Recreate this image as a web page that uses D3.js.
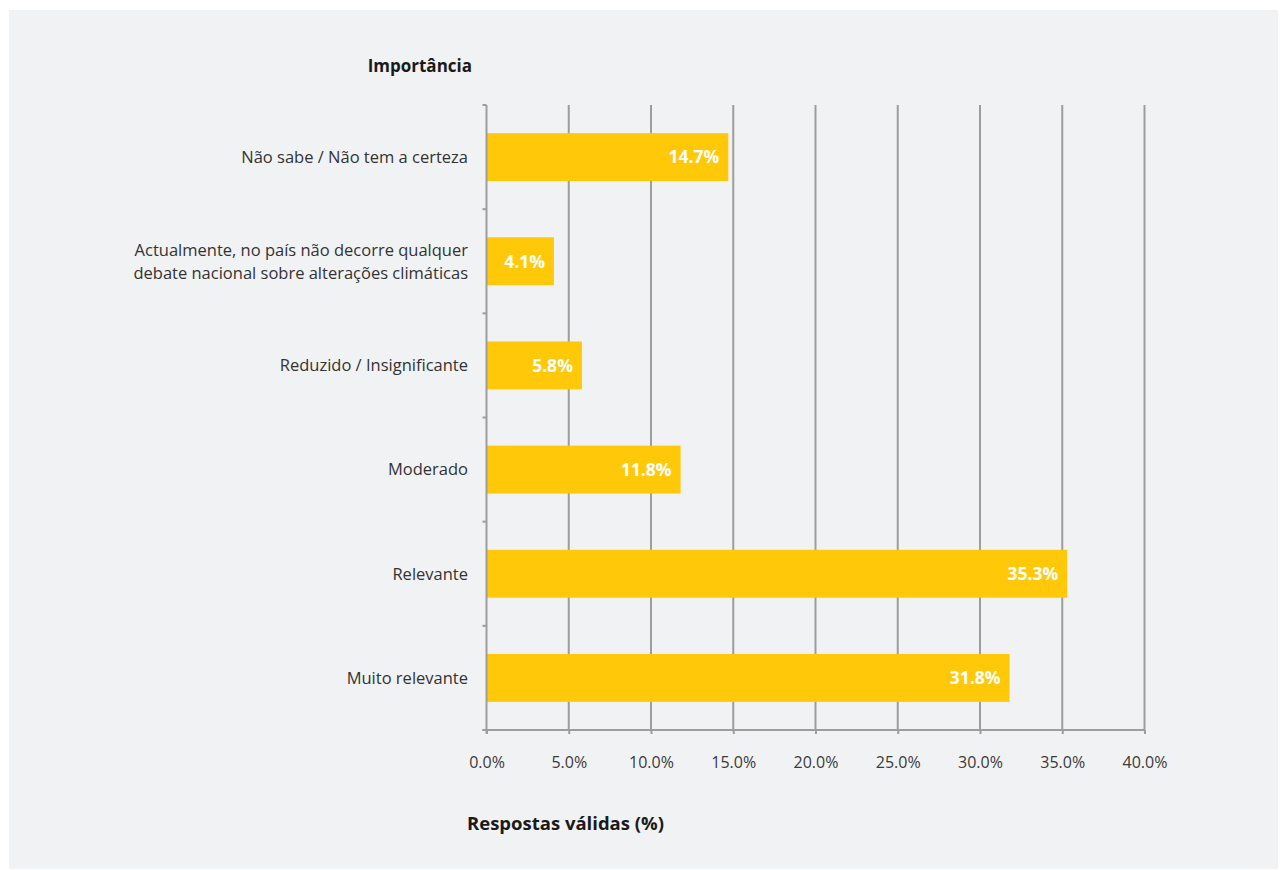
<!DOCTYPE html>
<html>
<head>
<meta charset="utf-8">
<script src="https://cdn.jsdelivr.net/npm/d3@7/dist/d3.min.js"></script>
<style>
  html, body { margin: 0; padding: 0; background: #ffffff; }
  svg { display: block; font-family: "Open Sans", "Noto Sans", sans-serif; }
</style>
</head>
<body>
<svg id="chart" width="1282" height="870"></svg>
<script>
// Categories, top to bottom
const categories = [
  "Não sabe / Não tem a certeza",
  "Actualmente, no país não decorre qualquer debate nacional sobre alterações climáticas",
  "Reduzido / Insignificante",
  "Moderado",
  "Relevante",
  "Muito relevante"
];
// Wrapped lines for each category label
const categoryLines = [
  ["Não sabe / Não tem a certeza"],
  ["Actualmente, no país não decorre qualquer", "debate nacional sobre alterações climáticas"],
  ["Reduzido / Insignificante"],
  ["Moderado"],
  ["Relevante"],
  ["Muito relevante"]
];
// Valid responses (%)
const values = [14.7, 4.1, 5.8, 11.8, 35.3, 31.8];
const xTicks = [0, 5, 10, 15, 20, 25, 30, 35, 40];
const yTitle = "Importância";
const xTitle = "Respostas válidas (%)";

const svg = d3.select("#chart");

// Panel background
svg.append("rect")
  .attr("x", 9).attr("y", 10)
  .attr("width", 1269).attr("height", 859)
  .attr("fill", "#f1f2f4");

const plotLeft = 486.5, plotRight = 1144.5, plotTop = 105, plotBottom = 730;

const x = d3.scaleLinear().domain([0, 40]).range([plotLeft, plotRight]);
const y = d3.scaleBand().domain(categories).range([plotTop, plotBottom]).paddingInner(0.54).paddingOuter(0.27);

const gridColor = "#9d9d9d";

// Vertical gridlines
svg.append("g")
  .selectAll("line")
  .data(xTicks.slice(1))
  .join("line")
  .attr("x1", d => x(d)).attr("x2", d => x(d))
  .attr("y1", plotTop).attr("y2", plotBottom)
  .attr("stroke", gridColor).attr("stroke-width", 2);

// Bars
svg.append("g")
  .selectAll("rect")
  .data(values)
  .join("rect")
  .attr("x", x(0))
  .attr("y", (d, i) => y(categories[i]))
  .attr("width", d => x(d) - x(0))
  .attr("height", y.bandwidth())
  .attr("fill", "#ffc90a");

// Value labels inside bar ends
svg.append("g")
  .selectAll("text")
  .data(values)
  .join("text")
  .attr("x", d => x(d) - 9)
  .attr("y", (d, i) => y(categories[i]) + y.bandwidth() / 2)
  .attr("dy", "0.36em")
  .attr("text-anchor", "end")
  .attr("fill", "#ffffff")
  .attr("font-size", 17.5)
  .attr("font-weight", 700)
  .text(d => d.toFixed(1) + "%");

// Left axis with category boundary ticks
const yAxisG = svg.append("g");
yAxisG.append("line")
  .attr("x1", plotLeft).attr("x2", plotLeft)
  .attr("y1", plotTop).attr("y2", plotBottom + 4)
  .attr("stroke", gridColor).attr("stroke-width", 2);
const step = (plotBottom - plotTop) / categories.length;
yAxisG.selectAll("line.tick")
  .data(d3.range(categories.length + 1))
  .join("line")
  .attr("class", "tick")
  .attr("x1", plotLeft - 4).attr("x2", plotLeft)
  .attr("y1", i => plotTop + i * step).attr("y2", i => plotTop + i * step)
  .attr("stroke", gridColor).attr("stroke-width", 2);

// Bottom axis
const xAxis = d3.axisBottom(x)
  .tickValues(xTicks)
  .tickSize(4)
  .tickPadding(23)
  .tickFormat(d => d.toFixed(1) + "%");
const xAxisG = svg.append("g")
  .attr("transform", `translate(0,${plotBottom})`)
  .call(xAxis);
xAxisG.select(".domain")
  .attr("d", `M${plotLeft - 4},0H${plotRight}`)
  .attr("stroke", gridColor).attr("stroke-width", 2);
xAxisG.selectAll(".tick line").attr("stroke", gridColor).attr("stroke-width", 2);
xAxisG.selectAll(".tick text")
  .attr("fill", "#3a3a3a")
  .attr("font-size", 16)
  .attr("font-family", "\"Open Sans\", sans-serif");

// Category labels
const labelG = svg.append("g");
categoryLines.forEach((lines, i) => {
  const cy = y(categories[i]) + y.bandwidth() / 2;
  const lh = 23;
  const t = labelG.append("text")
    .attr("text-anchor", "end")
    .attr("fill", "#333333")
    .attr("font-size", 16.5);
  lines.forEach((ln, j) => {
    t.append("tspan")
      .attr("x", 468)
      .attr("y", cy + (j - (lines.length - 1) / 2) * lh)
      .attr("dy", "0.35em")
      .text(ln);
  });
});

// Titles
svg.append("text")
  .attr("x", 472).attr("y", 66)
  .attr("dy", "0.35em")
  .attr("text-anchor", "end")
  .attr("font-size", 17).attr("font-weight", 700)
  .attr("fill", "#1a1a1a")
  .text(yTitle);

svg.append("text")
  .attr("x", 467).attr("y", 824)
  .attr("dy", "0.35em")
  .attr("font-size", 18.5).attr("font-weight", 700)
  .attr("fill", "#1a1a1a")
  .text(xTitle);
</script>
</body>
</html>
